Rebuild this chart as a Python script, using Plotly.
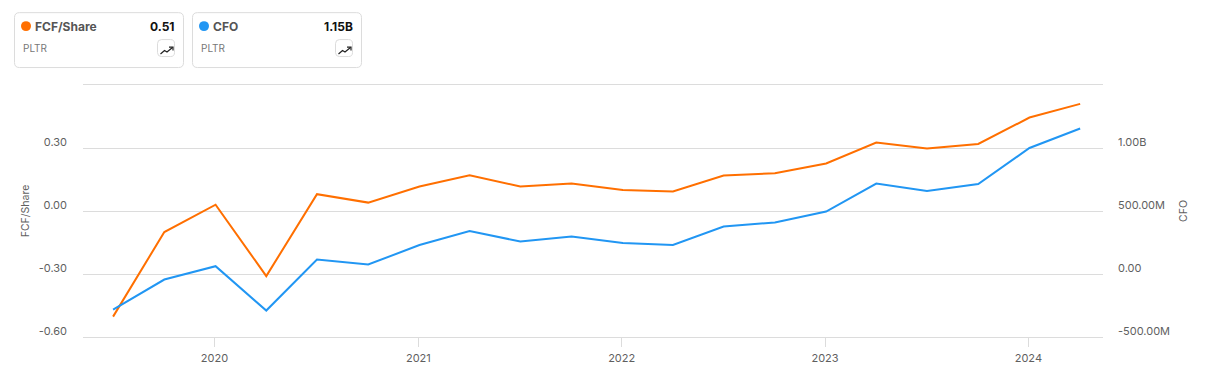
import plotly.graph_objects as go

OFF = 8  # page body margin
W, H = 1208 - OFF*2, 384 - OFF*2
L, R, T, B = 83, 1103, 85, 337.5

quarters = ["2019-07-03","2019-10-03","2020-01-03","2020-04-03","2020-07-03","2020-10-03",
            "2021-01-03","2021-04-03","2021-07-03","2021-10-03","2022-01-03","2022-04-03",
            "2022-07-03","2022-10-03","2023-01-03","2023-04-03","2023-07-03","2023-10-03",
            "2024-01-03","2024-04-03"]
fcf_share = [-0.503,-0.10,0.03,-0.31,0.08,0.04,0.117,0.17,0.117,0.131,0.10,0.093,
             0.169,0.18,0.226,0.326,0.298,0.319,0.445,0.51]
cfo = [-282e6,-44e6,62e6,-290e6,115e6,75e6,230e6,341e6,258e6,298e6,246e6,230e6,
       377e6,409e6,496e6,718e6,659e6,714e6,1000e6,1155e6]
left_ticks = [-0.6,-0.3,0.0,0.3]
left_labels = ["-0.60","-0.30","0.00","0.30"]
right_ticks = [-500e6,0,500e6,1000e6]
right_labels = ["-500.00M","0.00","500.00M","1.00B"]
year_ticks = ["2020-01-01","2021-01-01","2022-01-01","2023-01-01","2024-01-01"]
year_labels = ["2020","2021","2022","2023","2024"]

ORANGE, BLUE = "#ff6f00", "#2196f3"
FONT = "Inter"
GREY = "#5f5f5f"
GRID = "#dcdcdc"

def px(x): return (x - L) / (R - L)
def py(y): return (B - y) / (B - T)

def rrect(x0, y0, x1, y1, r):
    # rounded rectangle path in page pixels, mapped to paper coordinates
    seq = [("M", x0+r, y0), ("L", x1-r, y0), ("Q", x1, y0, x1, y0+r), ("L", x1, y1-r),
           ("Q", x1, y1, x1-r, y1), ("L", x0+r, y1), ("Q", x0, y1, x0, y1-r), ("L", x0, y0+r),
           ("Q", x0, y0, x0+r, y0)]
    out = []
    for s in seq:
        c = s[0]
        vals = s[1:]
        coords = " ".join(f"{px(vals[i]):.5f},{py(vals[i+1]):.5f}" for i in range(0, len(vals), 2))
        out.append(f"{c}{coords}")
    return " ".join(out) + " Z"

fig = go.Figure()
fig.add_trace(go.Scatter(x=quarters, y=fcf_share, mode="lines", name="FCF/Share",
                         line=dict(color=ORANGE, width=2), yaxis="y"))
fig.add_trace(go.Scatter(x=quarters, y=cfo, mode="lines", name="CFO",
                         line=dict(color=BLUE, width=2), yaxis="y2"))

shapes, notes = [], []
cards = [(14.5, "FCF/Share", "0.51", ORANGE), (192.5, "CFO", "1.15B", BLUE)]
for x0, name, val, col in cards:
    shapes.append(dict(type="path", xref="paper", yref="paper", path=rrect(x0, 12.5, x0+169, 67.5, 5),
                       line=dict(color="#dcdcdc", width=1), fillcolor="white", layer="above"))
    shapes.append(dict(type="circle", xref="paper", yref="paper", x0=px(x0+6.5), x1=px(x0+16.5),
                       y0=py(31), y1=py(21), line=dict(width=0), fillcolor=col, layer="above"))
    shapes.append(dict(type="path", xref="paper", yref="paper", path=rrect(x0+143, 39.5, x0+160, 56.5, 4),
                       line=dict(color="#dcdcdc", width=1), fillcolor="white", layer="above"))
    ix = x0 + 145
    pts = [(ix+1,54),(ix+5,50.5),(ix+7.5,52),(ix+13,47.5)]
    path = "M" + " L".join(f"{px(a):.5f},{py(b):.5f}" for a, b in pts)
    shapes.append(dict(type="path", xref="paper", yref="paper", path=path,
                       line=dict(color="#222222", width=1.2), layer="above"))
    arrow = [(ix+9.5,47),(ix+13.5,47),(ix+13.5,50.5)]
    path = "M" + " L".join(f"{px(a):.5f},{py(b):.5f}" for a, b in arrow)
    shapes.append(dict(type="path", xref="paper", yref="paper", path=path,
                       line=dict(color="#222222", width=1.2), layer="above"))
    notes.append(dict(x=px(x0+18.5), y=py(26), text=f"<b>{name}</b>", xanchor="left", yanchor="middle",
                      font=dict(family=FONT, size=12, color="#555555")))
    notes.append(dict(x=px(x0+162.5), y=py(26), text=f"<b>{val}</b>", xanchor="right", yanchor="middle",
                      font=dict(family=FONT, size=12, color="#111111")))
    notes.append(dict(x=px(x0+6.5), y=py(47.5), text="PLTR", xanchor="left", yanchor="middle",
                      font=dict(family=FONT, size=10, color="#777777")))
for n in notes:
    n.update(xref="paper", yref="paper", showarrow=False)

tickfont = dict(family=FONT, size=11, color=GREY)
fig.update_layout(
    width=W, height=H, margin=dict(l=L-OFF, r=W-(R-OFF), t=T-OFF, b=H-(B-OFF), pad=0),
    paper_bgcolor="white", plot_bgcolor="white", showlegend=False,
    font=dict(family=FONT), shapes=shapes, annotations=notes,
    xaxis=dict(type="date", range=["2019-05-10","2024-05-14"], tickvals=year_ticks, ticktext=year_labels,
               showgrid=False, ticks="outside", ticklen=9, tickcolor=GRID, tickwidth=1, ticklabelstandoff=2,
               showline=True, linecolor=GRID, linewidth=1, mirror=True, tickfont=tickfont, zeroline=False),
    yaxis=dict(range=[-0.6,0.6], tickvals=left_ticks, ticktext=left_labels, gridcolor=GRID, gridwidth=1,
               zeroline=False, tickfont=tickfont, ticklabelposition="outside", ticklabelshift=-6, ticklabelstandoff=15,
               title=dict(text="FCF/Share", font=dict(family=FONT, size=10.5, color=GREY), standoff=6)),
    yaxis2=dict(range=[-500e6,1500e6], tickvals=right_ticks, ticktext=right_labels, overlaying="y", side="right",
                showgrid=False, zeroline=False, tickfont=tickfont, ticklabelposition="outside", ticklabelshift=-6, ticklabelstandoff=14,
                title=dict(text="CFO", font=dict(family=FONT, size=10.5, color=GREY), standoff=10)),
)
fig.write_html("out.html")
